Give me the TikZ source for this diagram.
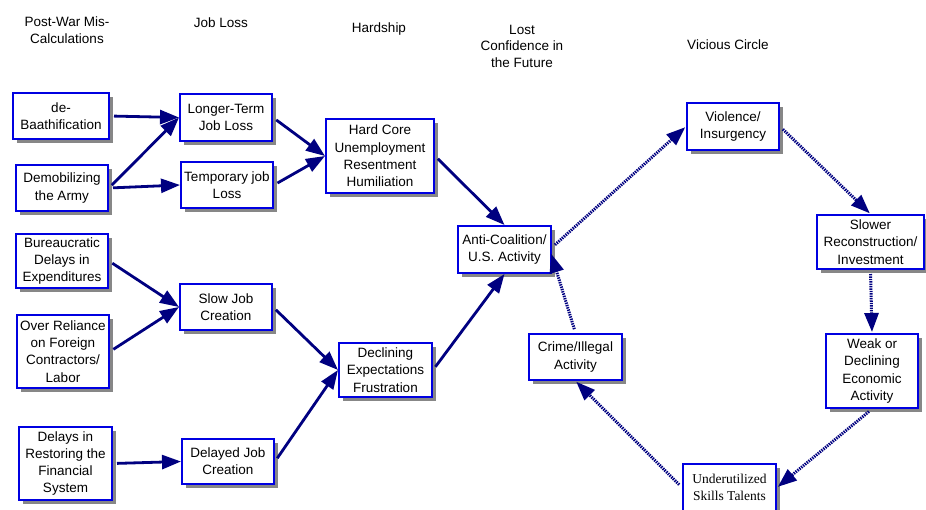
\documentclass[tikz,border=0pt]{standalone}
\usepackage{fontspec}
\setmainfont{Liberation Sans}
\newfontfamily\timesfont{Liberation Serif}
\usetikzlibrary{arrows.meta,shadows}
\definecolor{boxblue}{RGB}{0,0,225}
\definecolor{arrnavy}{RGB}{0,0,128}
\definecolor{shadowgray}{RGB}{135,135,135}
\tikzset{
  box/.style={draw=boxblue, line width=2pt, fill=white, align=center,
    inner sep=0pt, font=\fontsize{13.5}{17.3}\selectfont,
    drop shadow={shadow xshift=3.5pt, shadow yshift=-3.5pt, fill=shadowgray, opacity=1}},
  hdr/.style={align=center, inner sep=0pt, font=\fontsize{13.5}{16.5}\selectfont},
  arr/.style={draw=arrnavy, line width=2.8pt, shorten <=4pt,
    -{Triangle[length=19pt,width=14pt]}},
  darr/.style={draw=arrnavy, line width=3pt, dash pattern=on 1.4pt off 1pt,
    shorten <=4pt, shorten >=1pt, -{Triangle[length=19pt,width=14pt]}},
}
\begin{document}
\begin{tikzpicture}[x=1pt,y=-1pt]
\useasboundingbox (0,0) rectangle (926,509);
% headers
\node[hdr] (h1) at (67,30) {Post-War Mis-\\Calculations};
\node[hdr] (h2) at (221,23) {Job Loss};
\node[hdr] (h3) at (379,29) {Hardship};
\node[hdr] (h4) at (522,46) {Lost\\Confidence in\\the Future};
\node[hdr] (h5) at (728,45) {Vicious Circle};
% boxes
\node[box, minimum width=96pt, minimum height=46pt] (deb) at (61,116) {de-\\Baathification};
\node[box, minimum width=92pt, minimum height=46pt] (demob) at (62,188) {Demobilizing\\the Army};
\node[box, minimum width=92pt, minimum height=47pt] (longer) at (226,117.5) {Longer-Term\\Job Loss};
\node[box, minimum width=92pt, minimum height=46pt] (temp) at (227,185) {Temporary job\\Loss};
\node[box, minimum width=108pt, minimum height=74pt] (hard) at (380,156) {Hard Core\\Unemployment\\Resentment\\Humiliation};
\node[box, minimum width=93pt, minimum height=47pt] (anti) at (504.5,249.5) {Anti-Coalition/\\U.S. Activity};
\node[box, minimum width=92pt, minimum height=47pt] (viol) at (733,126.5) {Violence/\\Insurgency};
\node[box, minimum width=107pt, minimum height=54pt] (slower) at (870.5,242) {Slower\\Reconstruction/\\Investment};
\node[box, minimum width=92pt, minimum height=74pt] (weak) at (872,371) {Weak or\\Declining\\Economic\\Activity};
\node[box, minimum width=93pt, minimum height=47pt, font=\timesfont\fontsize{13.5}{17}\selectfont] (under) at (729.5,487.5) {Underutilized\\Skills Talents};
\node[box, minimum width=93pt, minimum height=46pt] (crime) at (575.5,357) {Crime/Illegal\\Activity};
\node[box, minimum width=92pt, minimum height=54pt] (bur) at (62,261) {Bureaucratic\\Delays in\\Expenditures};
\node[box, minimum width=92pt, minimum height=73pt] (over) at (63,351.5) {Over Reliance\\on Foreign\\Contractors/\\Labor};
\node[box, minimum width=92pt, minimum height=46pt] (slow) at (226,307) {Slow Job\\Creation};
\node[box, minimum width=93pt, minimum height=73pt] (delres) at (65.5,463.5) {Delays in\\Restoring the\\Financial\\System};
\node[box, minimum width=92pt, minimum height=45pt] (delayed) at (228,461.5) {Delayed Job\\Creation};
\node[box, minimum width=93pt, minimum height=54pt] (decl) at (385.5,370) {Declining\\Expectations\\Frustration};
% solid connectors
\draw[arr] (deb.east) -- (longer.west);
\draw[arr] (demob.east) -- (longer.west);
\draw[arr] (demob.east) -- (temp.west);
\draw[arr] (longer.east) -- (hard.west);
\draw[arr] (temp.east) -- (hard.west);
\draw[arr] (hard.east) -- (anti.north);
\draw[arr] (decl.east) -- (anti.south);
\draw[arr] (bur.east) -- (slow.west);
\draw[arr] (over.east) -- (slow.west);
\draw[arr] (slow.east) -- (decl.west);
\draw[arr] (delayed.east) -- (decl.west);
\draw[arr] (delres.east) -- (delayed.west);
% dotted connectors (vicious circle)
\draw[darr] ([yshift=2pt]anti.east) -- (viol.west);
\draw[darr] (viol.east) -- (slower.north);
\draw[darr] (slower.south) -- (weak.north);
\draw[darr] (weak.south) -- (under.east);
\draw[darr] (under.west) -- (crime.south);
\draw[darr, shorten >=-3pt] (crime.north) -- ([yshift=-7pt]anti.east);
\end{tikzpicture}
\end{document}
